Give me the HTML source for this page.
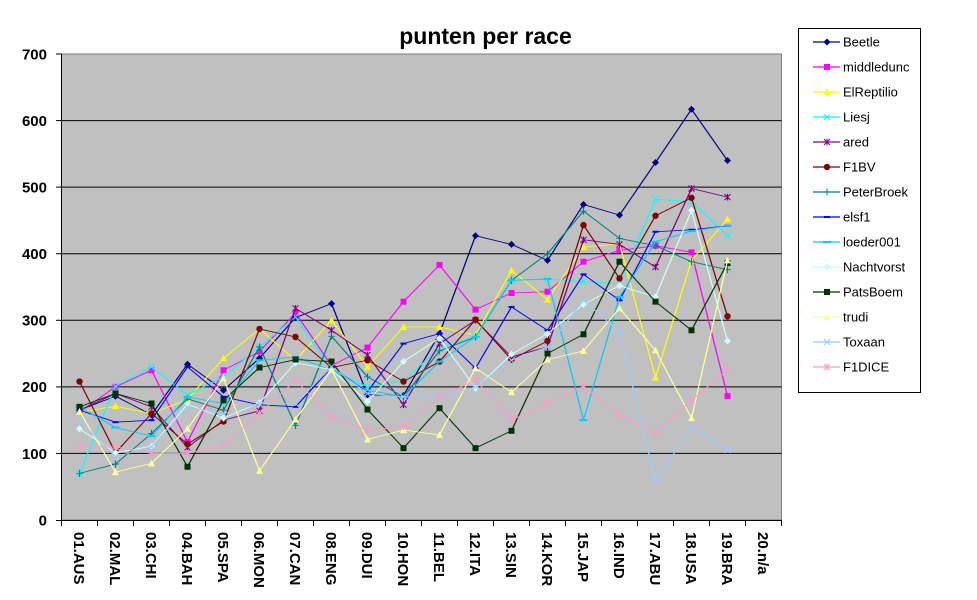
<!DOCTYPE html>
<html><head><meta charset="utf-8"><style>
html,body{margin:0;padding:0;background:#fff;}
svg{display:block;}
text{font-family:"Liberation Sans",Arial,sans-serif;}
</style></head><body>
<svg width="977" height="600" viewBox="0 0 977 600" xmlns="http://www.w3.org/2000/svg">
<defs>
<marker id="mBeetle" markerUnits="userSpaceOnUse" markerWidth="20" markerHeight="20" refX="0" refY="0" overflow="visible" style="overflow:visible"><path d="M0,5.3 L3.5,0 L0,-5.3 L-3.5,0Z" fill="#000080"/></marker>
<marker id="mMid" markerUnits="userSpaceOnUse" markerWidth="20" markerHeight="20" refX="0" refY="0" overflow="visible" style="overflow:visible"><rect x="-3" y="-4.5" width="6" height="9" fill="#FF00FF"/></marker>
<marker id="mElr" markerUnits="userSpaceOnUse" markerWidth="20" markerHeight="20" refX="0" refY="0" overflow="visible" style="overflow:visible"><path d="M0,5.3 L3.5,-4.5 L-3.5,-4.5Z" fill="#FFFF00"/></marker>
<marker id="mLiesj" markerUnits="userSpaceOnUse" markerWidth="20" markerHeight="20" refX="0" refY="0" overflow="visible" style="overflow:visible"><path d="M-3,-4.5 L3,4.5 M-3,4.5 L3,-4.5" stroke="#00FFFF" stroke-width="1.2" fill="none"/></marker>
<marker id="mAred" markerUnits="userSpaceOnUse" markerWidth="20" markerHeight="20" refX="0" refY="0" overflow="visible" style="overflow:visible"><path d="M-3,-4.5 L3,4.5 M-3,4.5 L3,-4.5 M0,-5 L0,5" stroke="#800080" stroke-width="1.2" fill="none"/></marker>
<marker id="mF1BV" markerUnits="userSpaceOnUse" markerWidth="20" markerHeight="20" refX="0" refY="0" overflow="visible" style="overflow:visible"><ellipse cx="0" cy="0" rx="3.2" ry="4.8" fill="#800000"/></marker>
<marker id="mPeter" markerUnits="userSpaceOnUse" markerWidth="20" markerHeight="20" refX="0" refY="0" overflow="visible" style="overflow:visible"><path d="M-3.5,0 L3.5,0 M0,-5.3 L0,5.3" stroke="#008080" stroke-width="1.2" fill="none"/></marker>
<marker id="mElsf" markerUnits="userSpaceOnUse" markerWidth="20" markerHeight="20" refX="0" refY="0" overflow="visible" style="overflow:visible"><rect x="-3" y="-1.5" width="6" height="3" fill="#0000FF"/></marker>
<marker id="mLoed" markerUnits="userSpaceOnUse" markerWidth="20" markerHeight="20" refX="0" refY="0" overflow="visible" style="overflow:visible"><rect x="-4" y="-1.5" width="8" height="3" fill="#00CCFF"/></marker>
<marker id="mNacht" markerUnits="userSpaceOnUse" markerWidth="20" markerHeight="20" refX="0" refY="0" overflow="visible" style="overflow:visible"><path d="M0,5.3 L3.5,0 L0,-5.3 L-3.5,0Z" fill="#CCFFFF"/></marker>
<marker id="mPats" markerUnits="userSpaceOnUse" markerWidth="20" markerHeight="20" refX="0" refY="0" overflow="visible" style="overflow:visible"><rect x="-3" y="-4.5" width="6" height="9" fill="#003300"/></marker>
<marker id="mTrudi" markerUnits="userSpaceOnUse" markerWidth="20" markerHeight="20" refX="0" refY="0" overflow="visible" style="overflow:visible"><path d="M0,5.3 L3.5,-4.5 L-3.5,-4.5Z" fill="#FFFF99"/></marker>
<marker id="mTox" markerUnits="userSpaceOnUse" markerWidth="20" markerHeight="20" refX="0" refY="0" overflow="visible" style="overflow:visible"><path d="M-3,-4.5 L3,4.5 M-3,4.5 L3,-4.5" stroke="#99CCFF" stroke-width="1.2" fill="none"/></marker>
<marker id="mDice" markerUnits="userSpaceOnUse" markerWidth="20" markerHeight="20" refX="0" refY="0" overflow="visible" style="overflow:visible"><path d="M-3,-4.5 L3,4.5 M-3,4.5 L3,-4.5 M0,-5 L0,5" stroke="#FF99CC" stroke-width="1.2" fill="none"/></marker>
</defs>

<rect x="0" y="0" width="977" height="600" fill="#ffffff"/>
<!-- title -->
<text x="485.5" y="44" font-size="23" font-weight="bold" text-anchor="middle" fill="#000">punten per race</text>

<!-- plot area -->
<rect x="61.5" y="54" width="720" height="466" fill="#C0C0C0" stroke="#808080" stroke-width="1"/>
<g stroke="#000" stroke-width="1">
<line x1="61.5" y1="120.6" x2="781.5" y2="120.6"/>
<line x1="61.5" y1="187.1" x2="781.5" y2="187.1"/>
<line x1="61.5" y1="253.7" x2="781.5" y2="253.7"/>
<line x1="61.5" y1="320.3" x2="781.5" y2="320.3"/>
<line x1="61.5" y1="386.9" x2="781.5" y2="386.9"/>
<line x1="61.5" y1="453.4" x2="781.5" y2="453.4"/>
<!-- axes -->
<line x1="61.5" y1="54" x2="61.5" y2="520.5"/>
<line x1="61.5" y1="520.5" x2="781.5" y2="520.5"/>
<!-- y ticks -->
<line x1="56" y1="54" x2="61.5" y2="54"/>
<line x1="56" y1="120.6" x2="61.5" y2="120.6"/>
<line x1="56" y1="187.1" x2="61.5" y2="187.1"/>
<line x1="56" y1="253.7" x2="61.5" y2="253.7"/>
<line x1="56" y1="320.3" x2="61.5" y2="320.3"/>
<line x1="56" y1="386.9" x2="61.5" y2="386.9"/>
<line x1="56" y1="453.4" x2="61.5" y2="453.4"/>
<line x1="56" y1="520.5" x2="61.5" y2="520.5"/>
<!-- x ticks -->
<line x1="61.5" y1="520" x2="61.5" y2="526"/>
<line x1="97.5" y1="520" x2="97.5" y2="526"/>
<line x1="133.5" y1="520" x2="133.5" y2="526"/>
<line x1="169.5" y1="520" x2="169.5" y2="526"/>
<line x1="205.5" y1="520" x2="205.5" y2="526"/>
<line x1="241.5" y1="520" x2="241.5" y2="526"/>
<line x1="277.5" y1="520" x2="277.5" y2="526"/>
<line x1="313.5" y1="520" x2="313.5" y2="526"/>
<line x1="349.5" y1="520" x2="349.5" y2="526"/>
<line x1="385.5" y1="520" x2="385.5" y2="526"/>
<line x1="421.5" y1="520" x2="421.5" y2="526"/>
<line x1="457.5" y1="520" x2="457.5" y2="526"/>
<line x1="493.5" y1="520" x2="493.5" y2="526"/>
<line x1="529.5" y1="520" x2="529.5" y2="526"/>
<line x1="565.5" y1="520" x2="565.5" y2="526"/>
<line x1="601.5" y1="520" x2="601.5" y2="526"/>
<line x1="637.5" y1="520" x2="637.5" y2="526"/>
<line x1="673.5" y1="520" x2="673.5" y2="526"/>
<line x1="709.5" y1="520" x2="709.5" y2="526"/>
<line x1="745.5" y1="520" x2="745.5" y2="526"/>
<line x1="781.5" y1="520" x2="781.5" y2="526"/>
</g>

<!-- y labels -->
<g font-size="15" font-weight="bold" text-anchor="end" fill="#000">
<text x="47" y="59.5">700</text>
<text x="47" y="126">600</text>
<text x="47" y="192.5">500</text>
<text x="47" y="259">400</text>
<text x="47" y="325.5">300</text>
<text x="47" y="392">200</text>
<text x="47" y="459">100</text>
<text x="47" y="525.5">0</text>
</g>

<!-- x labels -->
<g font-size="15" font-weight="bold" fill="#000">
<text transform="translate(74,532) rotate(90)">01.AUS</text>
<text transform="translate(110,532) rotate(90)">02.MAL</text>
<text transform="translate(146,532) rotate(90)">03.CHI</text>
<text transform="translate(182,532) rotate(90)">04.BAH</text>
<text transform="translate(218,532) rotate(90)">05.SPA</text>
<text transform="translate(254,532) rotate(90)">06.MON</text>
<text transform="translate(290,532) rotate(90)">07.CAN</text>
<text transform="translate(326,532) rotate(90)">08.ENG</text>
<text transform="translate(362,532) rotate(90)">09.DUI</text>
<text transform="translate(398,532) rotate(90)">10.HON</text>
<text transform="translate(434,532) rotate(90)">11.BEL</text>
<text transform="translate(470,532) rotate(90)">12.ITA</text>
<text transform="translate(506,532) rotate(90)">13.SIN</text>
<text transform="translate(542,532) rotate(90)">14.KOR</text>
<text transform="translate(578,532) rotate(90)">15.JAP</text>
<text transform="translate(614,532) rotate(90)">16.IND</text>
<text transform="translate(650,532) rotate(90)">17.ABU</text>
<text transform="translate(686,532) rotate(90)">18.USA</text>
<text transform="translate(722,532) rotate(90)">19.BRA</text>
<text transform="translate(758,532) rotate(90)">20.n/a</text>
</g>

<!-- series -->
<g transform="translate(0,520) scale(1,-0.6657)" fill="none" stroke-width="1.3">
<polyline stroke="#000080" marker-start="url(#mBeetle)" marker-mid="url(#mBeetle)" marker-end="url(#mBeetle)" points="79.5,165 115.5,186 151.5,158 187.5,234 223.5,195 259.5,243 295.5,304 331.5,325 367.5,188 403.5,187 439.5,280 475.5,427 511.5,414 547.5,390 583.5,474 619.5,458 655.5,537 691.5,617 727.5,540"/>
<polyline stroke="#FF00FF" marker-start="url(#mMid)" marker-mid="url(#mMid)" marker-end="url(#mMid)" points="79.5,162 115.5,200 151.5,225 187.5,117 223.5,225 259.5,253 295.5,311 331.5,232 367.5,259 403.5,328 439.5,383 475.5,316 511.5,341 547.5,343 583.5,388 619.5,405 655.5,412 691.5,402 727.5,186"/>
<polyline stroke="#FFFF00" marker-start="url(#mElr)" marker-mid="url(#mElr)" marker-end="url(#mElr)" points="79.5,162 115.5,171 151.5,160 187.5,181 223.5,243 259.5,287 295.5,240 331.5,300 367.5,230 403.5,290 439.5,290 475.5,278 511.5,375 547.5,331 583.5,410 619.5,415 655.5,214 691.5,390 727.5,452"/>
<polyline stroke="#00FFFF" marker-start="url(#mLiesj)" marker-mid="url(#mLiesj)" marker-end="url(#mLiesj)" points="79.5,70 115.5,201 151.5,230 187.5,188 223.5,215 259.5,260 295.5,305 331.5,226 367.5,200 403.5,210 439.5,258 475.5,275 511.5,360 547.5,362 583.5,358 619.5,355 655.5,482 691.5,478 727.5,427"/>
<polyline stroke="#800080" marker-start="url(#mAred)" marker-mid="url(#mAred)" marker-end="url(#mAred)" points="79.5,165 115.5,190 151.5,170 187.5,109 223.5,150 259.5,164 295.5,318 331.5,285 367.5,248 403.5,173 439.5,265 475.5,300 511.5,245 547.5,260 583.5,421 619.5,414 655.5,380 691.5,498 727.5,485"/>
<polyline stroke="#800000" marker-start="url(#mF1BV)" marker-mid="url(#mF1BV)" marker-end="url(#mF1BV)" points="79.5,208 115.5,101 151.5,160 187.5,114 223.5,148 259.5,287 295.5,275 331.5,229 367.5,240 403.5,208 439.5,238 475.5,301 511.5,241 547.5,269 583.5,443 619.5,363 655.5,457 691.5,484 727.5,306"/>
<polyline stroke="#008080" marker-start="url(#mPeter)" marker-mid="url(#mPeter)" marker-end="url(#mPeter)" points="79.5,70 115.5,84 151.5,130 187.5,182 223.5,165 259.5,260 295.5,142 331.5,276 367.5,215 403.5,185 439.5,254 475.5,275 511.5,360 547.5,400 583.5,464 619.5,423 655.5,412 691.5,388 727.5,376"/>
<polyline stroke="#0000FF" marker-start="url(#mElsf)" marker-mid="url(#mElsf)" marker-end="url(#mElsf)" points="79.5,165 115.5,147 151.5,150 187.5,230 223.5,185 259.5,173 295.5,170 331.5,229 367.5,193 403.5,265 439.5,280 475.5,228 511.5,320 547.5,285 583.5,369 619.5,330 655.5,433 691.5,436 727.5,442"/>
<polyline stroke="#00CCFF" marker-start="url(#mLoed)" marker-mid="url(#mLoed)" marker-end="url(#mLoed)" points="79.5,170 115.5,139 151.5,126 187.5,185 223.5,175 259.5,240 295.5,245 331.5,225 367.5,195 403.5,185 439.5,238 475.5,275 511.5,360 547.5,362 583.5,150 619.5,335 655.5,418 691.5,434 727.5,442"/>
<polyline stroke="#CCFFFF" marker-start="url(#mNacht)" marker-mid="url(#mNacht)" marker-end="url(#mNacht)" points="79.5,137 115.5,101 151.5,111 187.5,174 223.5,153 259.5,176 295.5,236 331.5,226 367.5,178 403.5,238 439.5,273 475.5,198 511.5,249 547.5,280 583.5,324 619.5,352 655.5,335 691.5,465 727.5,269"/>
<polyline stroke="#003300" marker-start="url(#mPats)" marker-mid="url(#mPats)" marker-end="url(#mPats)" points="79.5,170 115.5,190 151.5,175 187.5,80 223.5,180 259.5,229 295.5,241 331.5,238 367.5,166 403.5,108 439.5,168 475.5,108 511.5,134 547.5,250 583.5,279 619.5,388 655.5,328 691.5,285 727.5,386"/>
<polyline stroke="#FFFF99" marker-start="url(#mTrudi)" marker-mid="url(#mTrudi)" marker-end="url(#mTrudi)" points="79.5,163 115.5,72 151.5,85 187.5,137 223.5,213 259.5,74 295.5,151 331.5,226 367.5,121 403.5,135 439.5,128 475.5,228 511.5,192 547.5,241 583.5,254 619.5,318 655.5,255 691.5,153 727.5,390"/>
<polyline stroke="#99CCFF" marker-start="url(#mTox)" marker-mid="url(#mTox)" marker-end="url(#mTox)" points="79.5,150 115.5,95 151.5,110 187.5,170 223.5,160 259.5,175 295.5,175 331.5,230 367.5,190 403.5,185 439.5,185 475.5,200 511.5,240 547.5,260 583.5,330 619.5,283 655.5,58 691.5,140 727.5,105"/>
<polyline stroke="#FF99CC" marker-start="url(#mDice)" marker-mid="url(#mDice)" marker-end="url(#mDice)" points="79.5,110 115.5,110 151.5,100 187.5,100 223.5,112 259.5,160 295.5,210 331.5,155 367.5,135 403.5,140 439.5,185 475.5,210 511.5,150 547.5,175 583.5,201 619.5,158 655.5,130 691.5,180 727.5,225"/>
</g>

<!-- legend -->
<rect x="798.5" y="28.5" width="122" height="364" fill="#ffffff" stroke="#000" stroke-width="1"/>
<g font-size="13" fill="#000">
<line x1="813" y1="42" x2="840" y2="42" stroke="#000080" stroke-width="1.2"/><path d="M827,38.5 L830.5,42 L827,45.5 L823.5,42Z" fill="#000080"/><text x="843" y="46.5">Beetle</text>
<line x1="813" y1="67" x2="840" y2="67" stroke="#FF00FF" stroke-width="1.2"/><rect x="824" y="64" width="6" height="6" fill="#FF00FF"/><text x="843" y="71.5">middledunc</text>
<line x1="813" y1="92" x2="840" y2="92" stroke="#FFFF00" stroke-width="1.2"/><path d="M827,88.5 L830.5,95 L823.5,95Z" fill="#FFFF00"/><text x="843" y="96.5">ElReptilio</text>
<line x1="813" y1="117" x2="840" y2="117" stroke="#00FFFF" stroke-width="1.2"/><path d="M824,114 L830,120 M824,120 L830,114" stroke="#00FFFF" stroke-width="1"/><text x="843" y="121.5">Liesj</text>
<line x1="813" y1="142" x2="840" y2="142" stroke="#800080" stroke-width="1.2"/><path d="M824,139 L830,145 M824,145 L830,139 M827,138.5 L827,145.5" stroke="#800080" stroke-width="1"/><text x="843" y="146.5">ared</text>
<line x1="813" y1="167" x2="840" y2="167" stroke="#800000" stroke-width="1.2"/><circle cx="827" cy="167" r="3.2" fill="#800000"/><text x="843" y="171.5">F1BV</text>
<line x1="813" y1="192" x2="840" y2="192" stroke="#008080" stroke-width="1.2"/><path d="M823.5,192 L830.5,192 M827,188.5 L827,195.5" stroke="#008080" stroke-width="1"/><text x="843" y="196.5">PeterBroek</text>
<line x1="813" y1="217" x2="840" y2="217" stroke="#0000FF" stroke-width="1.2"/><rect x="824" y="216" width="6" height="2" fill="#0000FF"/><text x="843" y="221.5">elsf1</text>
<line x1="813" y1="242" x2="840" y2="242" stroke="#00CCFF" stroke-width="1.2"/><rect x="823" y="241" width="8" height="2" fill="#00CCFF"/><text x="843" y="246.5">loeder001</text>
<line x1="813" y1="267" x2="840" y2="267" stroke="#CCFFFF" stroke-width="1.2"/><path d="M827,263.5 L830.5,267 L827,270.5 L823.5,267Z" fill="#CCFFFF"/><text x="843" y="271.5">Nachtvorst</text>
<line x1="813" y1="292" x2="840" y2="292" stroke="#003300" stroke-width="1.2"/><rect x="824" y="289" width="6" height="6" fill="#003300"/><text x="843" y="296.5">PatsBoem</text>
<line x1="813" y1="317" x2="840" y2="317" stroke="#FFFF99" stroke-width="1.2"/><path d="M827,313.5 L830.5,320 L823.5,320Z" fill="#FFFF99"/><text x="843" y="321.5">trudi</text>
<line x1="813" y1="342" x2="840" y2="342" stroke="#99CCFF" stroke-width="1.2"/><path d="M824,339 L830,345 M824,345 L830,339" stroke="#99CCFF" stroke-width="1"/><text x="843" y="346.5">Toxaan</text>
<line x1="813" y1="367" x2="840" y2="367" stroke="#FF99CC" stroke-width="1.2"/><path d="M824,364 L830,370 M824,370 L830,364 M827,363.5 L827,370.5" stroke="#FF99CC" stroke-width="1"/><text x="843" y="371.5">F1DICE</text>
</g>
</svg>
</body></html>
